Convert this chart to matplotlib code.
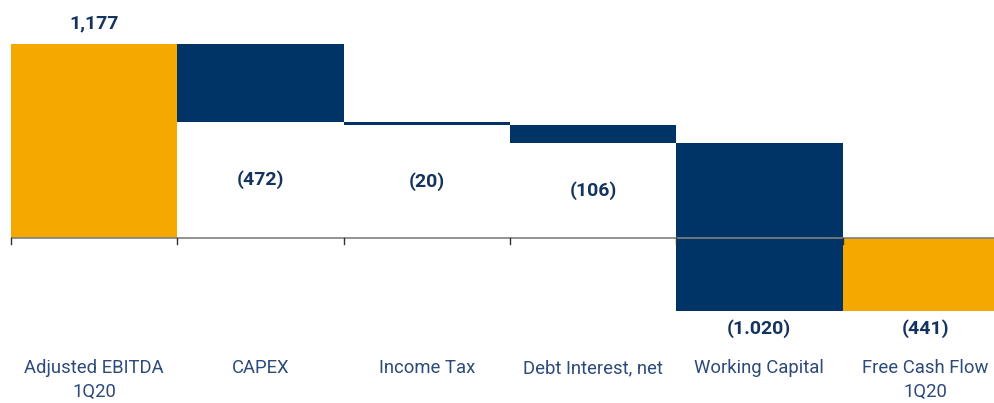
import matplotlib
matplotlib.use("Agg")
import matplotlib.pyplot as plt
import matplotlib.transforms as mtransforms

categories = ["Adjusted EBITDA\n1Q20", "CAPEX", "Income Tax", "Debt Interest, net",
              "Working Capital", "Free Cash Flow\n1Q20"]
values = [1177, -472, -20, -106, -1020, -441]
kinds = ["total", "delta", "delta", "delta", "delta", "total"]
value_labels = ["1,177", "(472)", "(20)", "(106)", "(1.020)", "(441)"]

ORANGE = "#F5A800"
NAVY = "#003466"
TXT = "#14335F"
CAT = "#2C4A7A"

W, H = 995, 403
fig = plt.figure(figsize=(W / 100, H / 100), dpi=100)
# pixel geometry
x0_px, cat_w_px = 11, 166.3
zero_px, scale = 238, 194 / 1177.0
ax = fig.add_axes([x0_px / W, 0, len(categories) * cat_w_px / W, 1])
ax.set_xlim(0, len(categories))
ax.set_ylim(-(H - zero_px) / scale, zero_px / scale)
ax.axis("off")

VFS = 14
running = 0
for i, (v, k, lab) in enumerate(zip(values, kinds, value_labels)):
    if k == "total":
        bottom, height, color = 0, v, ORANGE
        running = v
    else:
        bottom, height, color = running, v, NAVY
        running = running + v
    ax.bar(i + 0.5, height, bottom=bottom, width=1.0, color=color, linewidth=0, zorder=2)
    top = max(bottom, bottom + height)
    low = min(bottom, bottom + height)
    if v > 0:
        ax.annotate(lab, (i + 0.5, top), xytext=(0, 15), textcoords="offset points",
                    ha="center", va="center", fontsize=VFS, fontweight="bold",
                    color=TXT, family="Roboto")
    elif low >= 0:
        ax.text(i + 0.5, low / 2, lab, ha="center", va="center", fontsize=VFS,
                fontweight="bold", color=TXT, family="Roboto")
    else:
        ax.annotate(lab, (i + 0.5, low), xytext=(0, -13), textcoords="offset points",
                    ha="center", va="center", fontsize=VFS, fontweight="bold",
                    color=TXT, family="Roboto")

# zero axis line and boundary ticks
ax.axhline(0, color="#808080", linewidth=1.2, zorder=3)
for b in range(len(categories)):
    ax.plot([b, b], [0, -6 / scale], color="#303030", linewidth=1.0, zorder=3, clip_on=False)

trans = mtransforms.blended_transform_factory(ax.transData, fig.transFigure)
for i, c in enumerate(categories):
    ax.text(i + 0.5, 1 - 359 / H, c, transform=trans, ha="center", va="top",
            fontsize=13.3, color=CAT, family="Roboto", linespacing=1.45)

fig.savefig("out.png", dpi=100)
